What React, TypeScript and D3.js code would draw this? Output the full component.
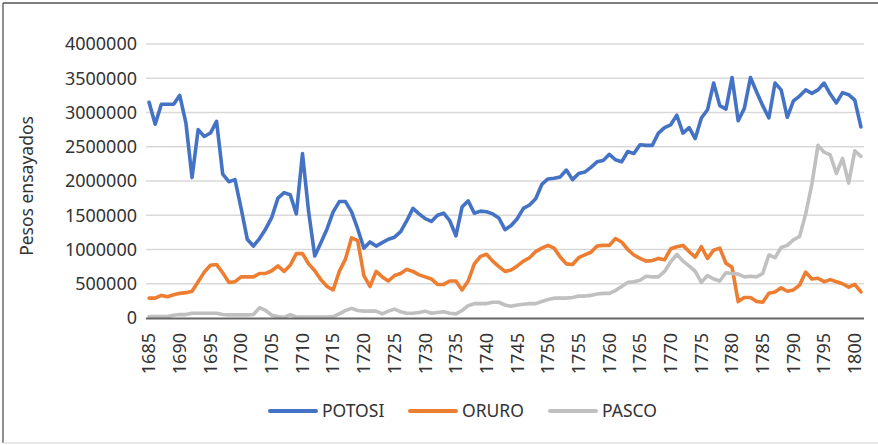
import React from 'react';
import * as d3 from 'd3';

// one category per year, 1685..1801
const years = d3.range(1685, 1802);

const potosi = [
  3150000, 2830000, 3120000, 3120000, 3120000, 3250000, 2850000, 2050000, 2750000, 2650000,
  2700000, 2870000, 2100000, 1990000, 2020000, 1600000, 1150000, 1050000, 1160000, 1300000,
  1470000, 1750000, 1830000, 1800000, 1520000, 2400000, 1550000, 905000, 1100000, 1300000,
  1550000, 1700000, 1700000, 1550000, 1300000, 1020000, 1110000, 1050000, 1100000, 1150000,
  1180000, 1260000, 1420000, 1600000, 1520000, 1450000, 1410000, 1500000, 1530000, 1420000,
  1200000, 1620000, 1710000, 1530000, 1560000, 1550000, 1520000, 1460000, 1290000, 1350000,
  1450000, 1600000, 1650000, 1740000, 1950000, 2030000, 2040000, 2060000, 2160000, 2020000,
  2110000, 2130000, 2200000, 2280000, 2300000, 2390000, 2310000, 2280000, 2430000, 2400000,
  2530000, 2520000, 2520000, 2700000, 2780000, 2820000, 2960000, 2700000, 2780000, 2620000,
  2920000, 3040000, 3430000, 3100000, 3050000, 3510000, 2880000, 3060000, 3510000, 3300000,
  3100000, 2920000, 3430000, 3330000, 2930000, 3170000, 3240000, 3330000, 3280000, 3330000,
  3430000, 3270000, 3140000, 3290000, 3260000, 3180000, 2790000,
];

const oruro = [
  290000, 290000, 330000, 310000, 340000, 360000, 370000, 390000, 530000, 670000,
  770000, 780000, 660000, 520000, 530000, 600000, 600000, 600000, 650000, 650000,
  690000, 760000, 680000, 770000, 940000, 940000, 790000, 690000, 560000, 460000,
  410000, 680000, 860000, 1170000, 1130000, 620000, 460000, 680000, 600000, 540000,
  620000, 650000, 710000, 680000, 630000, 600000, 570000, 490000, 490000, 540000,
  540000, 410000, 540000, 790000, 900000, 930000, 830000, 750000, 680000, 700000,
  760000, 830000, 880000, 970000, 1020000, 1060000, 1020000, 890000, 790000, 780000,
  880000, 920000, 960000, 1050000, 1060000, 1060000, 1160000, 1110000, 1000000, 920000,
  870000, 830000, 840000, 870000, 850000, 1010000, 1040000, 1060000, 970000, 890000,
  1040000, 870000, 990000, 1020000, 800000, 740000, 240000, 300000, 300000, 240000,
  230000, 360000, 380000, 440000, 390000, 410000, 480000, 670000, 570000, 580000,
  530000, 560000, 530000, 500000, 450000, 490000, 380000,
];

const pasco = [
  20000, 20000, 20000, 20000, 40000, 50000, 50000, 70000, 70000, 70000,
  70000, 70000, 50000, 45000, 45000, 45000, 45000, 50000, 150000, 110000,
  40000, 20000, 10000, 50000, 15000, 15000, 15000, 15000, 15000, 15000,
  20000, 60000, 110000, 140000, 110000, 100000, 100000, 100000, 60000, 100000,
  130000, 90000, 70000, 70000, 80000, 100000, 70000, 80000, 90000, 70000,
  60000, 110000, 180000, 210000, 210000, 210000, 230000, 230000, 190000, 170000,
  190000, 200000, 210000, 210000, 240000, 270000, 290000, 290000, 290000, 300000,
  320000, 320000, 330000, 350000, 360000, 360000, 400000, 460000, 520000, 530000,
  550000, 610000, 600000, 600000, 680000, 820000, 930000, 830000, 760000, 680000,
  520000, 620000, 570000, 540000, 660000, 650000, 640000, 600000, 610000, 600000,
  650000, 920000, 880000, 1030000, 1060000, 1140000, 1190000, 1520000, 1950000, 2520000,
  2420000, 2380000, 2110000, 2330000, 1970000, 2440000, 2360000,
];

const yTicks = [0, 500000, 1000000, 1500000, 2000000, 2500000, 3000000, 3500000, 4000000];
const xTickLabels = [
  1685, 1690, 1695, 1700, 1705, 1710, 1715, 1720, 1725, 1730, 1735, 1740,
  1745, 1750, 1755, 1760, 1765, 1770, 1775, 1780, 1785, 1790, 1795, 1800,
];

const seriesNames = ['POTOSI', 'ORURO', 'PASCO'];
const seriesColors = ['#4472C4', '#ED7D31', '#C0C0C0'];
const seriesValues = [potosi, oruro, pasco];

export default function App() {
  const W = 878, H = 445;
  const font = '"Noto Sans", "Open Sans", sans-serif';
  const textColor = '#333';

  const x = d3.scalePoint<number>().domain(years).range([146, 864]).padding(0.5);
  const y = d3.scaleLinear().domain([0, 4000000]).range([318, 44]);

  const line = d3.line<number>()
    .x((d, i) => x(years[i]) as number)
    .y(d => y(d));

  // legend positions
  const legendX = [270, 410, 550];
  const legendY = 411;

  return (
    <svg width={W} height={H} style={{ position: 'fixed', left: 0, top: 0, background: '#fff' }}
      fontFamily={font}>
      <rect x={0} y={0} width={W} height={H} fill="#fff" />
      {/* frame */}
      <line x1={3} y1={3} x2={W} y2={3} stroke="#555" strokeWidth={1.3} />
      <line x1={3} y1={3} x2={3} y2={443} stroke="#555" strokeWidth={1.3} />
      <line x1={3} y1={443} x2={W} y2={443} stroke="#e2e2e2" strokeWidth={1.3} />

      {/* grid + y labels */}
      {yTicks.map(t => (
        <g key={t}>
          {t > 0 && <line x1={146} x2={864} y1={y(t)} y2={y(t)} stroke="#d9d9d9" strokeWidth={1.3} />}
          <text x={137} y={y(t)} dy="0.35em" textAnchor="end" fontSize={18} fill={textColor}>{t}</text>
        </g>
      ))}

      {/* y title */}
      <text transform="translate(33,186) rotate(-90)" textAnchor="middle" fontSize={17.5} fill={textColor}>
        Pesos ensayados
      </text>

      {/* series */}
      {seriesValues.map((vals, i) => (
        <path key={seriesNames[i]} d={line(vals) || ''} fill="none" stroke={seriesColors[i]}
          strokeWidth={3.6} strokeLinejoin="round" strokeLinecap="round" />
      ))}

      {/* x axis */}
      <line x1={146} x2={864} y1={318.5} y2={318.5} stroke="#666" strokeWidth={2} />
      {xTickLabels.map(yr => (
        <text key={yr} transform={`translate(${x(yr)},333) rotate(-90)`} dy="0.35em"
          textAnchor="end" fontSize={18} fill={textColor}>{yr}</text>
      ))}

      {/* legend */}
      {seriesNames.map((n, i) => (
        <g key={n}>
          <line x1={legendX[i]} x2={legendX[i] + 46} y1={legendY} y2={legendY}
            stroke={seriesColors[i]} strokeWidth={4} strokeLinecap="round" />
          <text x={legendX[i] + 52} y={legendY} dy="0.35em" fontSize={17.5} fill={textColor}>{n}</text>
        </g>
      ))}
    </svg>
  );
}
